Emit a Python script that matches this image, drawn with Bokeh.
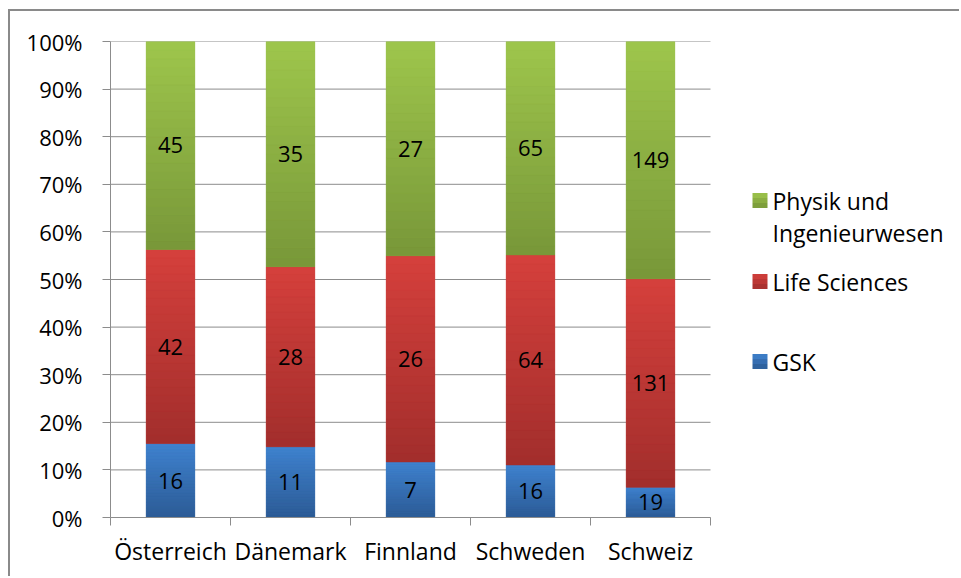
from bokeh.plotting import figure
from bokeh.models import Range1d, FixedTicker, Label, BoxAnnotation, NumeralTickFormatter
from bokeh.core.properties import value
from bokeh.embed import file_html
from bokeh.resources import INLINE

# ---- data ----
countries = ["Österreich", "Dänemark", "Finnland", "Schweden", "Schweiz"]
gsk = [16, 11, 7, 16, 19]
life_sciences = [42, 28, 26, 64, 131]
physik = [45, 35, 27, 65, 149]
series_labels = ["GSK", "Life Sciences", "Physik und Ingenieurwesen"]
y_tick_values = [0.0, 0.1, 0.2, 0.3, 0.4, 0.5, 0.6, 0.7, 0.8, 0.9, 1.0]

# ---- style ----
FONT = "Open Sans"
FS_NUM = "22px"
FS_TXT = "23px"
GRID = "#8c8c8c"
grad = {  # (top colour, bottom colour)
    "GSK": ("#3f82cf", "#2c5b95"),
    "Life Sciences": ("#d5403c", "#a22e2c"),
    "Physik und Ingenieurwesen": ("#9ec64c", "#789739"),
}

W, H = 951, 567
FL, FR, FT, FB = 100, 700, 30, 506  # bar-area edges in canvas px
NCAT = len(countries)
px_per_x = (FR - FL) / NCAT
x_end = (W - FL) / px_per_x

p = figure(width=W, height=H, output_backend="svg", toolbar_location=None,
           x_range=Range1d(0, x_end), y_range=Range1d(0, 1), title=None,
           min_border_left=FL, min_border_right=0,
           min_border_top=FT, min_border_bottom=H - FB,
           styles={"margin-left": "8px", "margin-top": "9px",
                   "border-left": "2px solid #8a8a8a", "border-top": "2px solid #8a8a8a"})
p.outline_line_color = None
p.background_fill_color = "white"
p.border_fill_color = "white"

def hex2rgb(h):
    h = h.lstrip("#")
    return tuple(int(h[i:i + 2], 16) for i in (0, 2, 4))

def mix(c1, c2, t):
    a, b = hex2rgb(c1), hex2rgb(c2)
    return "#%02x%02x%02x" % tuple(round(a[i] + (b[i] - a[i]) * t) for i in range(3))

# gridlines (only across the bar area)
p.segment(x0=[0] * len(y_tick_values), x1=[NCAT] * len(y_tick_values),
          y0=y_tick_values, y1=y_tick_values, line_color=GRID, line_width=1)

N = 24
BW = 0.405
xs = [i + 0.5 for i in range(NCAT)]
series = [gsk, life_sciences, physik]
totals = [sum(v) for v in zip(*series)]

base = [0.0] * NCAT
lab_x, lab_y, lab_t = [], [], []
for name, vals in zip(series_labels, series):
    top_c, bot_c = grad[name]
    fr = [v / t for v, t in zip(vals, totals)]
    tops = [b + f for b, f in zip(base, fr)]
    p.vbar(x=xs, width=BW, bottom=base, top=tops, fill_color=mix(top_c, bot_c, 0.5),
           line_color=None)
    for k in range(N):
        col = mix(bot_c, top_c, (k + 0.5) / N)
        bb = [base[i] + fr[i] * k / N for i in range(NCAT)]
        tt = [base[i] + fr[i] * (k + 1) / N for i in range(NCAT)]
        p.vbar(x=xs, width=BW, bottom=bb, top=tt, fill_color=col, line_color=col,
               line_width=0.5)
    for i in range(NCAT):
        lab_x.append(xs[i]); lab_y.append(base[i] + fr[i] / 2); lab_t.append(str(vals[i]))
    base = tops

p.text(x=lab_x, y=lab_y, text=lab_t, text_align="center", text_baseline="middle",
       text_font=value(FONT), text_font_size=FS_NUM, text_color="black")

# ---- axes ----
xa = p.xaxis[0]
xa.bounds = (0, NCAT)
xa.ticker = FixedTicker(ticks=xs, minor_ticks=list(range(NCAT + 1)))
xa.major_label_overrides = {x: c for x, c in zip(xs, countries)}
xa.major_tick_out = 0
xa.major_tick_in = 0
xa.minor_tick_out = 8
xa.minor_tick_in = 0
xa.minor_tick_line_color = GRID
xa.axis_line_color = GRID
xa.major_label_standoff = 9
xa.major_label_text_font = FONT
xa.major_label_text_font_size = FS_TXT
xa.major_label_text_color = "black"

ya = p.yaxis[0]
ya.ticker = FixedTicker(ticks=y_tick_values, minor_ticks=[])
ya.formatter = NumeralTickFormatter(format="0%")
ya.major_tick_out = 8
ya.major_tick_in = 0
ya.minor_tick_out = 0
ya.major_tick_line_color = GRID
ya.axis_line_color = GRID
ya.major_label_standoff = 20
ya.major_label_text_font = FONT
ya.major_label_text_font_size = FS_NUM
ya.major_label_text_color = "black"

p.xgrid.visible = False
p.ygrid.visible = False

# ---- legend (manual, inside the extended frame) ----
px_per_y = (FB - FT) / 1.0
def dx(px):  # canvas px -> data x
    return (px - FL) / px_per_x
def dy(py):  # canvas px -> data y
    return (FB - py) / px_per_y

legend_order = ["Physik und Ingenieurwesen", "Life Sciences", "GSK"]
legend_text = {"Physik und Ingenieurwesen": ["Physik und", "Ingenieurwesen"],
               "Life Sciences": ["Life Sciences"], "GSK": ["GSK"]}
centers = [189, 270, 350]
for name, cy in zip(legend_order, centers):
    top_c, bot_c = grad[name]
    for k in range(3):
        c = mix(top_c, bot_c, (k + 0.5) / 3)
        p.add_layout(BoxAnnotation(left=dx(742), right=dx(757),
                                   top=dy(cy - 7.5 + 5 * k), bottom=dy(cy - 2.5 + 5 * k),
                                   fill_color=c, fill_alpha=1, line_color=None))
    for j, line in enumerate(legend_text[name]):
        p.add_layout(Label(x=dx(762), y=dy(cy + 32 * j), text=line,
                           text_font=FONT, text_font_size=FS_TXT, text_color="black",
                           text_align="left", text_baseline="middle"))

open("out.html", "w").write(file_html(p, INLINE))
